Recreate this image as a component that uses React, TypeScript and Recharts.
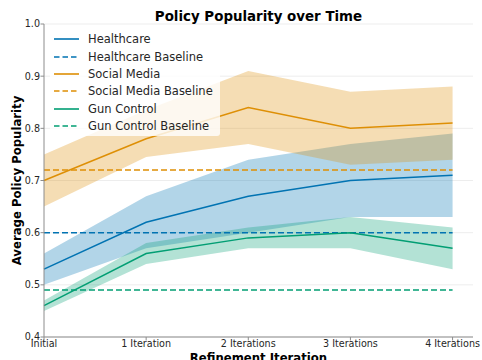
import { Area, CartesianGrid, ComposedChart, Legend, Line, XAxis, YAxis } from "recharts"

const categories = ["Initial", "1 Iteration", "2 Iterations", "3 Iterations", "4 Iterations"]

const healthcare = [0.53, 0.62, 0.67, 0.70, 0.71]
const healthcareLow = [0.50, 0.57, 0.60, 0.63, 0.63]
const healthcareHigh = [0.56, 0.67, 0.74, 0.77, 0.79]
const healthcareBaseline = [0.60, 0.60, 0.60, 0.60, 0.60]

const socialMedia = [0.70, 0.78, 0.84, 0.80, 0.81]
const socialMediaLow = [0.65, 0.745, 0.77, 0.73, 0.74]
const socialMediaHigh = [0.75, 0.835, 0.91, 0.87, 0.88]
const socialMediaBaseline = [0.72, 0.72, 0.72, 0.72, 0.72]

const gunControl = [0.46, 0.56, 0.59, 0.60, 0.57]
const gunControlLow = [0.45, 0.54, 0.57, 0.57, 0.53]
const gunControlHigh = [0.47, 0.58, 0.61, 0.63, 0.61]
const gunControlBaseline = [0.49, 0.49, 0.49, 0.49, 0.49]

const yTicks = [0.4, 0.5, 0.6, 0.7, 0.8, 0.9, 1.0]

const BLUE = "#0173b2"
const ORANGE = "#de8f05"
const GREEN = "#029e73"
const FONT = "'DejaVu Sans', sans-serif"
const TEXT = "#262626"
const SPINE = "#8c8c8c"

const chartData = categories.map((label, i) => ({
  x: i,
  label,
  hc: healthcare[i],
  hcBand: [healthcareLow[i], healthcareHigh[i]],
  hcBase: healthcareBaseline[i],
  sm: socialMedia[i],
  smBand: [socialMediaLow[i], socialMediaHigh[i]],
  smBase: socialMediaBaseline[i],
  gc: gunControl[i],
  gcBand: [gunControlLow[i], gunControlHigh[i]],
  gcBase: gunControlBaseline[i],
}))

const legendItems = [
  { name: "Healthcare", color: BLUE, dashed: false },
  { name: "Healthcare Baseline", color: BLUE, dashed: true },
  { name: "Social Media", color: ORANGE, dashed: false },
  { name: "Social Media Baseline", color: ORANGE, dashed: true },
  { name: "Gun Control", color: GREEN, dashed: false },
  { name: "Gun Control Baseline", color: GREEN, dashed: true },
]

function LegendBox() {
  return (
    <div
      style={{
        width: 170,
        boxSizing: "border-box",
        padding: "1.5px 0",
        background: "rgba(255,255,255,0.8)",
        borderRadius: 3,
        fontFamily: FONT,
        fontSize: 11.5,
        color: TEXT,
      }}
    >
      {legendItems.map((item) => (
        <div key={item.name} style={{ display: "flex", alignItems: "center", height: 17.35 }}>
          <svg width={25} height={4} style={{ marginLeft: 4, marginRight: 9 }}>
            <line
              x1={0}
              y1={2}
              x2={25}
              y2={2}
              stroke={item.color}
              strokeWidth={1.6}
              strokeDasharray={item.dashed ? "5.5 3" : undefined}
            />
          </svg>
          <span style={{ whiteSpace: "nowrap" }}>{item.name}</span>
        </div>
      ))}
    </div>
  )
}

export default function App() {
  return (
    <div style={{ position: "absolute", left: 0, top: 0, width: 482, height: 360 }}>
      <div
        style={{
          position: "absolute",
          left: 44,
          width: 429,
          top: 10,
          textAlign: "center",
          fontFamily: FONT,
          fontWeight: "bold",
          fontSize: 13.4,
          lineHeight: 1,
          color: "#000",
          zIndex: 2,
        }}
      >
        Policy Popularity over Time
      </div>
      <ComposedChart
        width={482}
        height={360}
        data={chartData}
        margin={{ top: 24, right: 9, bottom: 0, left: 0 }}
      >
        <CartesianGrid vertical={false} stroke="#e9e9e9" strokeWidth={0.8} />
        <XAxis
          dataKey="x"
          type="number"
          domain={[0, 4.2]}
          ticks={[0, 1, 2, 3, 4]}
          tickFormatter={(v: number) => categories[v]}
          height={23}
          stroke={SPINE}
          tickSize={3.5}
          tickMargin={0}
          tick={{ fontSize: 9.6, fill: TEXT, fontFamily: FONT }}
          label={{
            value: "Refinement Iteration",
            position: "insideBottom",
            offset: -1.5,
            style: { fontSize: 11.7, fontWeight: "bold", fill: "#000", fontFamily: FONT },
          }}
        />
        <YAxis
          type="number"
          domain={[0.4, 1.0]}
          ticks={yTicks}
          tickFormatter={(v: number) => v.toFixed(1)}
          width={44}
          stroke={SPINE}
          tickSize={3.5}
          tickMargin={0.5}
          tick={{ fontSize: 9.6, fill: TEXT, fontFamily: FONT }}
          label={{
            value: "Average Policy Popularity",
            angle: -90,
            position: "center",
            dx: -5,
            style: { fontSize: 11.7, fontWeight: "bold", fill: "#000", fontFamily: FONT, textAnchor: "middle" },
          }}
        />
        <Legend
          layout="vertical"
          align="center"
          verticalAlign="middle"
          wrapperStyle={{ position: "absolute", left: 50, top: 29, width: 170 }}
          content={() => <LegendBox />}
        />
        <Area dataKey="hcBand" type="linear" fill={BLUE} fillOpacity={0.3} stroke="none" isAnimationActive={false} activeDot={false} />
        <Area dataKey="smBand" type="linear" fill={ORANGE} fillOpacity={0.3} stroke="none" isAnimationActive={false} activeDot={false} />
        <Area dataKey="gcBand" type="linear" fill={GREEN} fillOpacity={0.3} stroke="none" isAnimationActive={false} activeDot={false} />
        <Line dataKey="hc" type="linear" stroke={BLUE} strokeWidth={1.5} dot={false} isAnimationActive={false} />
        <Line dataKey="hcBase" type="linear" stroke={BLUE} strokeWidth={1.5} strokeDasharray="6 3" dot={false} isAnimationActive={false} />
        <Line dataKey="sm" type="linear" stroke={ORANGE} strokeWidth={1.5} dot={false} isAnimationActive={false} />
        <Line dataKey="smBase" type="linear" stroke={ORANGE} strokeWidth={1.5} strokeDasharray="6 3" dot={false} isAnimationActive={false} />
        <Line dataKey="gc" type="linear" stroke={GREEN} strokeWidth={1.5} dot={false} isAnimationActive={false} />
        <Line dataKey="gcBase" type="linear" stroke={GREEN} strokeWidth={1.5} strokeDasharray="6 3" dot={false} isAnimationActive={false} />
      </ComposedChart>
    </div>
  )
}
